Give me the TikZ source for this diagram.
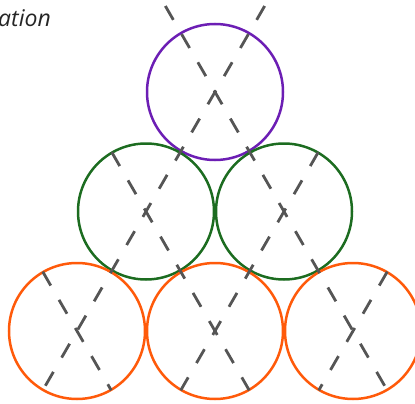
\documentclass[tikz,border=0pt]{standalone}
\usepackage{fontspec}
\setmainfont{Open Sans}
\definecolor{cpurple}{RGB}{108,30,180}
\definecolor{cgreen}{RGB}{28,108,32}
\definecolor{corange}{RGB}{255,90,10}
\definecolor{cdash}{RGB}{85,85,85}
\begin{document}
\begin{tikzpicture}[x=1pt,y=-1pt,
  ball/.style={circle,draw,line width=2.5pt,minimum size=136pt,inner sep=0pt},
  guide/.style={draw=cdash,line width=2.8pt,dash pattern=on 16pt off 16.5pt}]
\useasboundingbox (0,0) rectangle (415,404);
\clip (0,0) rectangle (415,404);
% circles
\node[ball,draw=cpurple] (P) at (215,92) {};
\node[ball,draw=cgreen] (GL) at (146,211.5) {};
\node[ball,draw=cgreen] (GR) at (284,211.5) {};
\node[ball,draw=corange] (OL) at (77,331) {};
\node[ball,draw=corange] (OM) at (215,331) {};
\node[ball,draw=corange] (OR) at (353,331) {};
% guide end points
\coordinate (a0) at (165.35,6);
\coordinate (a1) at (387.25,390.3);
\coordinate (b0) at (264.65,6);
\coordinate (b1) at (42.75,390.3);
\coordinate (c0) at (111.75,152.2);
\coordinate (c1) at (249.25,390.3);
\coordinate (d0) at (318.25,152.2);
\coordinate (d1) at (180.75,390.3);
\coordinate (e0) at (42.75,271.7);
\coordinate (e1) at (111.25,390.3);
\coordinate (f0) at (387.25,271.7);
\coordinate (f1) at (318.75,390.3);
% dashed guides
\draw[guide] (a0) -- (a1);
\draw[guide] (b0) -- (b1);
\draw[guide] (c0) -- (c1);
\draw[guide] (d0) -- (d1);
\draw[guide] (e0) -- (e1);
\draw[guide] (f0) -- (f1);
% title fragment
\node[anchor=base west,inner sep=0pt,font=\itshape\fontsize{23}{26}\selectfont,text=black!85] (title) at (-2,27) {ation};
\end{tikzpicture}
\end{document}
